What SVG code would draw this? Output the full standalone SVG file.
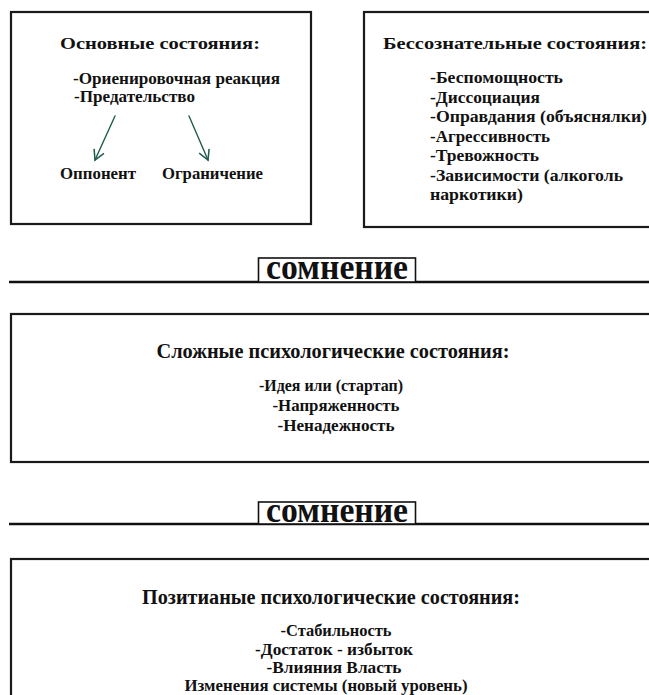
<svg xmlns="http://www.w3.org/2000/svg" width="649" height="695" viewBox="0 0 649 695">
<defs>
<style>
.box{fill:#fff;stroke:#1a1a1a;stroke-width:2.2}
.t{font-family:"Liberation Serif","DejaVu Serif",serif;font-weight:bold;fill:#111}
.h1{font-size:17.5px}
.it{font-size:16px}
.h2{font-size:20.5px}
.it2{font-size:16px}
.dz{font-size:36px}
.arr{stroke:#1f5c4f;stroke-width:1.4;fill:none;stroke-linecap:round;stroke-linejoin:round}
.rule{stroke:#111;stroke-width:2.4}
.tag{fill:#fff;stroke:#111;stroke-width:1.6}
</style>
<marker id="ah" viewBox="0 0 12 12" refX="10" refY="6" markerWidth="13" markerHeight="13" markerUnits="userSpaceOnUse" orient="auto">
<path d="M1,1 L10,6 L1,11" fill="none" stroke="#1f5c4f" stroke-width="1.4"/>
</marker>
</defs>
<rect width="649" height="695" fill="#fff"/>

<g id="basic">
<rect class="box" x="11" y="12" width="300" height="212"/>
<text class="t h1" x="160" y="49" text-anchor="middle" textLength="200" lengthAdjust="spacingAndGlyphs">Основные состояния:</text>
<text class="t it" x="73" y="84" textLength="207" lengthAdjust="spacingAndGlyphs">-Ориенировочная реакция</text>
<text class="t it" x="74" y="102" textLength="121" lengthAdjust="spacingAndGlyphs">-Предательство</text>
<text class="t it" x="60" y="179" textLength="76" lengthAdjust="spacingAndGlyphs">Оппонент</text>
<text class="t it" x="162" y="179" textLength="101" lengthAdjust="spacingAndGlyphs">Ограничение</text>
</g>

<g id="connectors">
<line class="arr" x1="115" y1="116" x2="95" y2="160" marker-end="url(#ah)"/>
<line class="arr" x1="189" y1="116" x2="208" y2="160" marker-end="url(#ah)"/>
</g>

<g id="unconscious">
<rect class="box" x="364" y="12" width="300" height="215"/>
<text class="t h1" x="383" y="49" textLength="264" lengthAdjust="spacingAndGlyphs">Бессознательные состояния:</text>
<text class="t it" x="430" y="83" textLength="133" lengthAdjust="spacingAndGlyphs">-Беспомощность</text>
<text class="t it" x="430" y="102.5" textLength="110" lengthAdjust="spacingAndGlyphs">-Диссоциация</text>
<text class="t it" x="430" y="122" textLength="217" lengthAdjust="spacingAndGlyphs">-Оправдания (объяснялки)</text>
<text class="t it" x="430" y="141.5" textLength="120" lengthAdjust="spacingAndGlyphs">-Агрессивность</text>
<text class="t it" x="430" y="161" textLength="109" lengthAdjust="spacingAndGlyphs">-Тревожность</text>
<text class="t it" x="430" y="180.5" textLength="193" lengthAdjust="spacingAndGlyphs">-Зависимости (алкоголь</text>
<text class="t it" x="430" y="200" textLength="93" lengthAdjust="spacingAndGlyphs">наркотики)</text>
</g>

<g id="doubt1">
<line class="rule" x1="9" y1="282" x2="649" y2="282"/>
<rect class="tag" x="258.5" y="258" width="157" height="24"/>
<text class="t dz" x="337" y="279" text-anchor="middle" textLength="142" lengthAdjust="spacingAndGlyphs">сомнение</text>
</g>

<g id="complex">
<rect class="box" x="11" y="314" width="660" height="148"/>
<text class="t h2" x="333" y="358" text-anchor="middle" textLength="353" lengthAdjust="spacingAndGlyphs">Сложные психологические состояния:</text>
<text class="t it2" x="331" y="391" text-anchor="middle" textLength="144" lengthAdjust="spacingAndGlyphs">-Идея или (стартап)</text>
<text class="t it2" x="336" y="411" text-anchor="middle" textLength="127" lengthAdjust="spacingAndGlyphs">-Напряженность</text>
<text class="t it2" x="336" y="431" text-anchor="middle" textLength="117" lengthAdjust="spacingAndGlyphs">-Ненадежность</text>
</g>

<g id="doubt2">
<line class="rule" x1="9" y1="524" x2="649" y2="524"/>
<rect class="tag" x="258.5" y="502" width="157" height="22"/>
<text class="t dz" x="337" y="522" text-anchor="middle" textLength="142" lengthAdjust="spacingAndGlyphs">сомнение</text>
</g>

<g id="positive">
<rect class="box" x="11" y="559" width="660" height="160"/>
<text class="t h2" x="331" y="604" text-anchor="middle" textLength="378" lengthAdjust="spacingAndGlyphs">Позитианые психологические состояния:</text>
<text class="t it2" x="336" y="636" text-anchor="middle" textLength="111" lengthAdjust="spacingAndGlyphs">-Стабильность</text>
<text class="t it2" x="334" y="654.5" text-anchor="middle" textLength="158" lengthAdjust="spacingAndGlyphs">-Достаток - избыток</text>
<text class="t it2" x="334" y="673" text-anchor="middle" textLength="135" lengthAdjust="spacingAndGlyphs">-Влияния Власть</text>
<text class="t it2" x="326" y="691" text-anchor="middle" textLength="283" lengthAdjust="spacingAndGlyphs">Изменения системы (новый уровень)</text>
</g>
</svg>
